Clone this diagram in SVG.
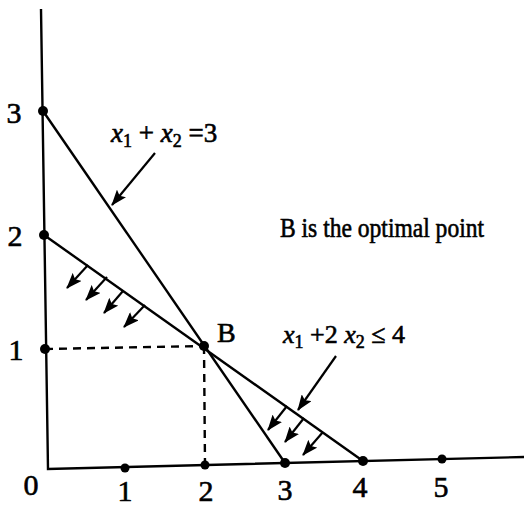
<svg xmlns="http://www.w3.org/2000/svg" width="524" height="508" viewBox="0 0 524 508">
<defs>
<marker id="ah" markerUnits="userSpaceOnUse" markerWidth="16" markerHeight="12" refX="15" refY="6" orient="auto">
<path d="M0,0 L16,6 L0,12 L3,6 Z" fill="#000"/>
</marker>
<style>
.ax{stroke:#000;stroke-width:2.4;fill:none}
.ln{stroke:#000;stroke-width:2.4;fill:none}
.dash{stroke:#000;stroke-width:2.4;fill:none;stroke-dasharray:8 6}
.arr{stroke:#000;stroke-width:2.2;fill:none;marker-end:url(#ah)}
.dot{fill:#000}
.t{font-family:"Liberation Serif","Times New Roman",serif;fill:#000;stroke:#000;stroke-width:0.6}
.num{font-size:30px;text-anchor:middle}
.it{font-style:italic}
.sub{font-size:18px}
</style>
</defs>
<rect width="524" height="508" fill="#fff"/>
<g id="axes">
<path class="ax" d="M41,9 L48,469 L524,457"/>
</g>
<g id="connectors">
<path class="ln" d="M43,111 L285,463"/>
<path class="ln" d="M44,235 L363,461"/>
<path class="dash" d="M45,349 L204,346"/>
<path class="dash" d="M204,346 L205,465"/>
<path class="arr" d="M155,153 L112,205"/>
<path class="arr" d="M336,356 L298,410"/>
<path class="arr" d="M88,265 L67,288"/>
<path class="arr" d="M107,277 L86,300"/>
<path class="arr" d="M123,291 L104,313"/>
<path class="arr" d="M145,305 L124,327"/>
<path class="arr" d="M287,406 L268,430"/>
<path class="arr" d="M304,418 L285,442"/>
<path class="arr" d="M323,432 L303,455"/>
</g>
<g id="points">
<circle class="dot" cx="43" cy="111" r="5"/>
<circle class="dot" cx="44" cy="235" r="5"/>
<circle class="dot" cx="45" cy="349" r="5"/>
<circle class="dot" cx="204" cy="346" r="5"/>
<circle class="dot" cx="125" cy="468" r="4.5"/>
<circle class="dot" cx="205" cy="465" r="4.5"/>
<circle class="dot" cx="285" cy="463" r="5"/>
<circle class="dot" cx="363" cy="461" r="5"/>
<circle class="dot" cx="442" cy="459" r="4.5"/>
</g>
<g id="labels">
<text class="t num" x="14" y="123">3</text>
<text class="t num" x="15" y="246">2</text>
<text class="t num" x="16" y="360">1</text>
<text class="t num" x="31" y="495">0</text>
<text class="t num" x="125" y="501">1</text>
<text class="t num" x="206" y="501">2</text>
<text class="t num" x="285" y="500">3</text>
<text class="t num" x="360" y="497">4</text>
<text class="t num" x="441" y="497">5</text>
<text class="t" x="217" y="342" font-size="28">B</text>
<text class="t" x="280" y="237" font-size="27" textLength="204" lengthAdjust="spacingAndGlyphs">B is the optimal point</text>
</g>
<g id="eq1">
<text class="t" x="111" y="142" font-size="27"><tspan class="it">x</tspan><tspan class="sub" dy="5">1</tspan><tspan dy="-5"> + </tspan><tspan class="it">x</tspan><tspan class="sub" dy="5">2</tspan><tspan dy="-5"> =3</tspan></text>
</g>
<g id="eq2">
<text class="t" x="283" y="343" font-size="26"><tspan class="it">x</tspan><tspan class="sub" dy="5">1</tspan><tspan dy="-5"> +2 </tspan><tspan class="it">x</tspan><tspan class="sub" dy="5">2</tspan><tspan dy="-5"> ≤ 4</tspan></text>
</g>
</svg>
